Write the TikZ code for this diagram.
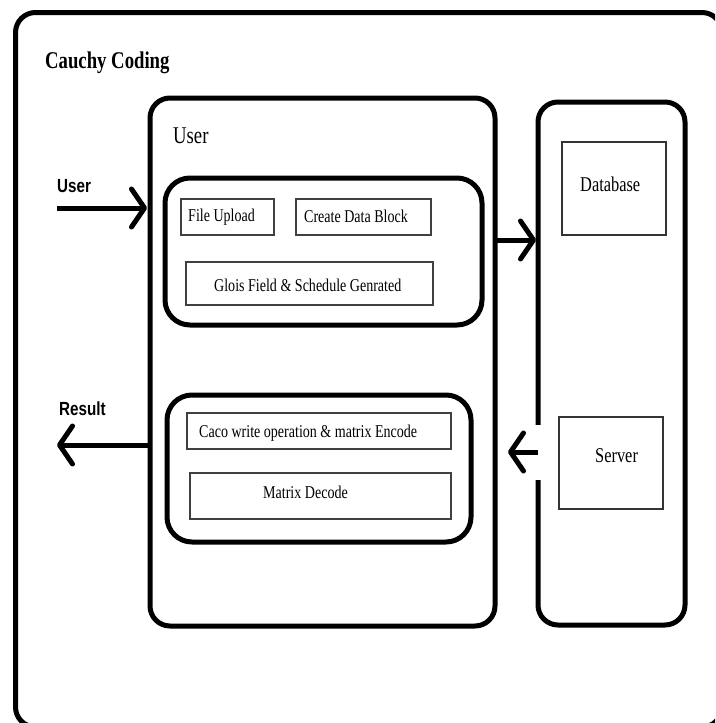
\documentclass[tikz,border=0pt]{standalone}
\usepackage{fontspec}
\setmainfont{Liberation Serif}[FakeStretch=0.78]
\newfontfamily\labelsans{Liberation Sans}[FakeStretch=0.8]
\usetikzlibrary{arrows.meta}
\begin{document}
\begin{tikzpicture}[x=1pt,y=-1pt,
  box/.style={draw, rectangle, outer sep=0pt, inner sep=0pt, anchor=north west},
  heavy/.style={box, line width=5pt, rounded corners=20pt},
  group/.style={box, line width=5pt, rounded corners=25pt},
  thinbox/.style={box, draw=black!75, line width=1.5pt},
  lbl/.style={inner sep=0pt, anchor=base west, text=black},
  boxtxt/.style={lbl, font=\fontsize{18}{20}\selectfont},
  sidetxt/.style={lbl, font=\labelsans\bfseries\fontsize{19}{21}\selectfont},
  arr/.style={line width=5pt, -{Straight Barb[length=13pt, width=38pt, line width=5pt, round]}}
]
\useasboundingbox (0,0) rectangle (715,723);
\clip (0,0) rectangle (715,723);

% containers
\node[heavy, minimum width=706.5pt, minimum height=714.5pt] (outer) at (15.5,12.5) {};
\node[heavy, minimum width=345pt, minimum height=528pt] (user) at (150,98) {};
\node[heavy, minimum width=147pt, minimum height=523pt] (side) at (538,102) {};
\node[group, minimum width=317pt, minimum height=147pt] (g1) at (165,178) {};
\node[group, minimum width=304pt, minimum height=147pt] (g2) at (167,395) {};

% inner boxes
\node[thinbox, minimum width=93pt, minimum height=36pt] (fu) at (181,199) {};
\node[thinbox, minimum width=135pt, minimum height=36pt] (cdb) at (296,199) {};
\node[thinbox, minimum width=247pt, minimum height=43pt] (gf) at (186,262) {};
\node[thinbox, minimum width=264pt, minimum height=36pt] (cw) at (187,413) {};
\node[thinbox, minimum width=261pt, minimum height=46pt] (md) at (190,473) {};
\node[thinbox, draw=black!80, line width=1.2pt, minimum width=104pt, minimum height=93pt] (db) at (562,142) {};
\node[thinbox, draw=black!80, line width=1.2pt, minimum width=104pt, minimum height=92pt] (sv) at (559,417) {};

% texts
\node[lbl, font=\bfseries\fontsize{24}{26}\selectfont] (tcc) at (45,68) {Cauchy Coding};
\node[lbl, font=\fontsize{24}{26}\selectfont] (tuser) at (173,143) {User};
\node[boxtxt] (tfu) at (188,221) {File Upload};
\node[boxtxt] (tcdb) at (304,222) {Create Data Block};
\node[boxtxt] (tgf) at (214,291) {Glois Field \& Schedule Genrated};
\node[boxtxt] (tcw) at (199,437) {Caco write operation \& matrix Encode};
\node[boxtxt] (tmd) at (263,498) {Matrix Decode};
\node[lbl, font=\fontsize{21}{23}\selectfont] (tdb) at (580,191) {Database};
\node[lbl, font=\fontsize{21}{23}\selectfont] (tsv) at (595,462) {Server};
\node[sidetxt] (tuin) at (57,192) {User};
\node[sidetxt] (tres) at (59,415) {Result};

% connector coordinates
\coordinate (uin) at (57,208);
\coordinate (rout) at (57,445);
\coordinate (dbY) at (0,240);
\coordinate (svtip) at (508,452);

% connectors
\draw[arr] (uin) -- ([xshift=-3pt]uin -| user.west);
\draw[arr] (user.west |- rout) -- (rout);
\draw[arr] (user.east |- dbY) -- ([xshift=-2pt]side.west |- dbY);
\fill[white] (533,425) rectangle (544,480);
\draw[arr] (side.west |- svtip) -- (svtip);
\end{tikzpicture}
\end{document}
